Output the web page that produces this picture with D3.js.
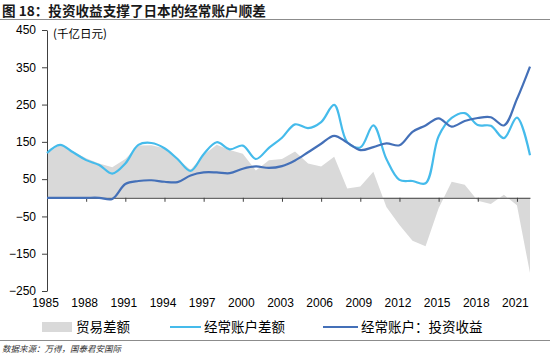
<!DOCTYPE html>
<html><head><meta charset="utf-8">
<script src="https://cdn.jsdelivr.net/npm/d3@7"></script>
<style>
html,body{margin:0;padding:0;background:#fff;}
svg{display:block;}
</style></head>
<body>
<svg id="c" width="550" height="355"></svg>
<script>
const years = d3.range(1985, 2023);
const tradeBalance = [119,142,124,106,92,82,104,140,141,133,104,75,115,142,128,118,73,101,104,124,92,84,110,25,30,70,-25,-73,-115,-130,-28,43,35,-8,-17,8,-20,-202];
const currentAccount = [120,142,122,101,88,65,92,142,147,133,104,72,117,149,130,140,104,134,161,197,187,203,249,149,135,194,104,48,45,39,165,214,227,195,193,160,215,114];
const investmentIncome = [0,0,0,0,0,-3,37,45,47,43,42,60,68,68,66,78,84,80,85,100,122,145,166,148,128,136,146,141,177,194,213,191,206,214,216,194,265,352];
const yTicks = [-250,-150,-50,50,150,250,350,450];
const xTicks = d3.range(1985, 2022, 3);
const seriesNames = ["贸易差额","经常账户差额","经常账户：投资收益"];

const svg = d3.select("#c");
const x = d3.scaleLinear().domain([1985, 2022]).range([47, 530]);
const y = d3.scaleLinear().domain([-250, 450]).range([291, 30]);

const cGray = "#d9d9d9", cLight = "#45bbeb", cDark = "#4470b8";

// title
svg.append("text").attr("x", 2).attr("y", 16)
  .style("font-family","'Noto Sans CJK SC'").style("font-weight","bold").style("font-size","13.6px").attr("fill","#1a1a1a")
  .text("图 18：投资收益支撑了日本的经常账户顺差");
svg.append("line").attr("x1",0).attr("x2",550).attr("y1",19.5).attr("y2",19.5).attr("stroke","#8c8c8c").attr("stroke-width",1);

// area
svg.append("path").datum(years.map((d,i)=>[d, tradeBalance[i]]))
  .attr("fill", cGray)
  .attr("d", d3.area().x(d=>x(d[0])).y0(y(0)).y1(d=>y(d[1])));

// axes
const yAxis = svg.append("g").attr("transform","translate(47,0)")
  .call(d3.axisLeft(y).tickValues(yTicks).tickSize(5).tickSizeOuter(0).tickPadding(6));
yAxis.selectAll("text").style("font-family","'Liberation Sans', Arial").style("font-size","12px").attr("fill","#000");
yAxis.selectAll("path,line").attr("stroke","#404040");

const xAxis = svg.append("g").attr("transform",`translate(0,${y(0)})`)
  .call(d3.axisBottom(x).tickValues(xTicks).tickSize(4).tickSizeOuter(0).tickFormat(""));
xAxis.selectAll("path,line").attr("stroke","#404040");

const xLab = svg.append("g").attr("transform","translate(-2,291)")
  .call(d3.axisBottom(x).tickValues(xTicks).tickSize(0).tickPadding(7).tickFormat(d3.format("d")));
xLab.select(".domain").remove();
xLab.selectAll("text").style("font-family","'Liberation Sans', Arial").style("font-size","12px").attr("fill","#000");

// lines
const line = d3.line().x(d=>x(d[0])).y(d=>y(d[1])).curve(d3.curveCatmullRom.alpha(0.5));
svg.append("path").datum(years.map((d,i)=>[d, currentAccount[i]]))
  .attr("fill","none").attr("stroke",cLight).attr("stroke-width",2.2).attr("d", line);
svg.append("path").datum(years.map((d,i)=>[d, investmentIncome[i]]))
  .attr("fill","none").attr("stroke",cDark).attr("stroke-width",2.2).attr("d", line);

// unit
svg.append("text").attr("x",53).attr("y",38)
  .style("font-family","'Noto Sans CJK SC'").style("font-size","11.5px").attr("fill","#000")
  .text("(千亿日元)");

// legend
const lg = svg.append("g").style("font-family","'Noto Sans CJK SC'").style("font-size","13.5px");
const ly = 327;
lg.append("rect").attr("x",42).attr("y",ly-5).attr("width",30).attr("height",10).attr("fill",cGray);
lg.append("text").attr("x",76).attr("y",ly+5).text(seriesNames[0]);
lg.append("line").attr("x1",170).attr("x2",201).attr("y1",ly).attr("y2",ly).attr("stroke",cLight).attr("stroke-width",2);
lg.append("text").attr("x",204).attr("y",ly+5).text(seriesNames[1]);
lg.append("line").attr("x1",323).attr("x2",358).attr("y1",ly).attr("y2",ly).attr("stroke",cDark).attr("stroke-width",2);
lg.append("text").attr("x",361).attr("y",ly+5).text(seriesNames[2]);

// source
svg.append("line").attr("x1",0).attr("x2",550).attr("y1",340.5).attr("y2",340.5).attr("stroke","#8c8c8c").attr("stroke-width",1);
svg.append("text").attr("x",2).attr("y",352)
  .style("font-family","'Noto Sans CJK SC'").style("font-style","italic").style("font-size","8.5px").attr("fill","#333")
  .text("数据来源：万得，国泰君安国际");
</script>
</body></html>
